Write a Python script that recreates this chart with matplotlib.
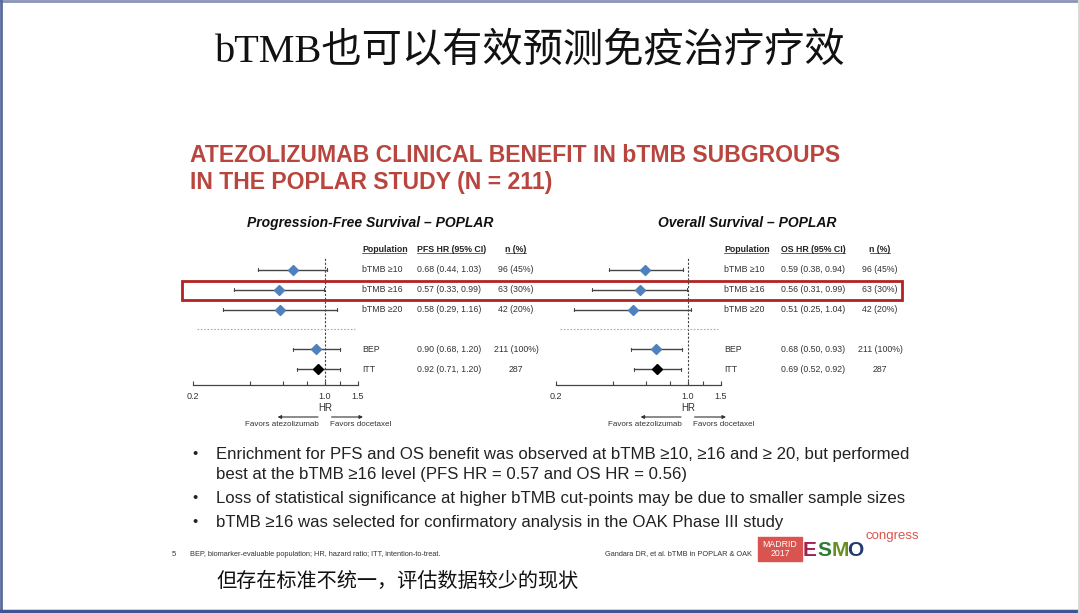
import matplotlib
matplotlib.use('Agg')
import matplotlib.pyplot as plt
from matplotlib.patches import Rectangle
from matplotlib.transforms import blended_transform_factory
import numpy as np

plt.rcParams['font.family'] = ['Liberation Sans', 'Noto Sans CJK SC', 'DejaVu Sans']

# 数据
groups = ['bTMB \u226510', 'bTMB \u226516', 'bTMB \u226520', 'BEP', 'ITT']
rows = [0, 1, 2, 4, 5]
pfs_hr = [0.68, 0.57, 0.58, 0.90, 0.92]
pfs_lo = [0.44, 0.33, 0.29, 0.68, 0.71]
pfs_hi = [1.03, 0.99, 1.16, 1.20, 1.20]
os_hr = [0.59, 0.56, 0.51, 0.68, 0.69]
os_lo = [0.38, 0.31, 0.25, 0.50, 0.52]
os_hi = [0.94, 0.99, 1.04, 0.93, 0.92]
n_pct = ['96 (45%)', '63 (30%)', '42 (20%)', '211 (100%)', '287']
marker_colors = ['#4F81BD', '#4F81BD', '#4F81BD', '#4F81BD', '#000000']
ticks = [0.2, 0.4, 0.6, 0.8, 1.0, 1.2, 1.5]
tick_labels = ['0.2', '', '', '', '1.0', '', '1.5']

W, H = 1080, 613
fig = plt.figure(figsize=(W / 100, H / 100), dpi=100)
bg = fig.add_axes([0, 0, 1, 1])
bg.set_xlim(0, W)
bg.set_ylim(H, 0)
bg.axis('off')

# 边框
bg.plot([0, W], [1, 1], color='#8A93B8', lw=2)
bg.plot([1, 1], [0, H], color='#5A6A9E', lw=2)
bg.plot([0, W], [H - 2, H - 2], color='#3E5591', lw=2.5)
bg.plot([W - 1, W - 1], [0, H], color='#D8D8D8', lw=1.5)

# 标题
bg.text(530, 52, 'bTMB也可以有效预测免疫治疗疗效', fontsize=29, ha='center', va='center',
        family=['Liberation Serif', 'Noto Sans CJK SC'], color='#111111')
red = '#B8463F'
bg.text(190, 156, 'ATEZOLIZUMAB CLINICAL BENEFIT IN bTMB SUBGROUPS', fontsize=16.6,
        fontweight='bold', color=red, va='center', ha='left')
bg.text(190, 182, 'IN THE POPLAR STUDY (N = 211)', fontsize=16.6,
        fontweight='bold', color=red, va='center', ha='left')


def forest(x0, x1, title, tcx, hr_head, hr, lo, hi, pop_x, hr_x, n_x):
    ax = fig.add_axes([x0 / W, 1 - 385 / H, (x1 - x0) / W, (385 - 258) / H])
    ax.set_xscale('log')
    ax.set_xlim(0.2, 1.5)
    ax.set_ylim(5.8, -0.6)
    for s in ['top', 'right', 'left']:
        ax.spines[s].set_visible(False)
    ax.spines['bottom'].set_color('#444444')
    ax.spines['bottom'].set_linewidth(0.9)
    ax.set_yticks([])
    ax.set_xticks(ticks)
    ax.set_xticklabels(tick_labels, fontsize=6.5, color='#333333')
    ax.minorticks_off()
    ax.tick_params(axis='x', direction='in', length=3, width=0.8, color='#444444', pad=5)
    ax.patch.set_alpha(0)
    ax.axvline(1.0, color='#444444', lw=0.8, ls=(0, (2, 1.5)))
    ax.plot([0.21, 1.45], [3, 3], color='#AAAAAA', lw=0.8, ls=(0, (1.5, 1.5)), clip_on=False)
    for r, m, l, h, c in zip(rows, hr, lo, hi, marker_colors):
        ax.plot([l, h], [r, r], color='#444444', lw=1.0, clip_on=False)
        ax.plot([l, l], [r - 0.08, r + 0.08], color='#444444', lw=0.7, clip_on=False)
        ax.plot([h, h], [r - 0.08, r + 0.08], color='#444444', lw=0.7, clip_on=False)
        ax.plot(m, r, marker='D', ms=5.5, color=c, mec=c, zorder=3, clip_on=False)

    tr = blended_transform_factory(bg.transData, ax.transData)
    fs = 6.3
    ax.text(pop_x, -1.05, 'Population', transform=tr, fontsize=fs, fontweight='bold',
            va='center', ha='left', color='#222222')
    ax.text(hr_x, -1.05, hr_head, transform=tr, fontsize=fs, fontweight='bold',
            va='center', ha='left', color='#222222')
    ax.text(n_x + 18, -1.05, 'n (%)', transform=tr, fontsize=fs, fontweight='bold',
            va='center', ha='center', color='#222222')
    # 表头下划线
    for xa, xb in [(pop_x, pop_x + 44), (hr_x, hr_x + 66 if hr_head.startswith('PFS') else hr_x + 64),
                   (n_x + 8, n_x + 28)]:
        ax.plot([xa, xb], [-0.85, -0.85], transform=tr, color='#222222', lw=0.5, clip_on=False)
    for r, g, m, l, h, n in zip(rows, groups, hr, lo, hi, n_pct):
        ax.text(pop_x, r, g, transform=tr, fontsize=fs, va='center', ha='left', color='#333333')
        ax.text(hr_x, r, f'{m:.2f} ({l:.2f}, {h:.2f})', transform=tr, fontsize=fs,
                va='center', ha='left', color='#333333')
        ax.text(n_x + 18, r, n, transform=tr, fontsize=fs, va='center', ha='center', color='#333333')

    bg.text(tcx, 223, title, fontsize=10, fontweight='bold', style='italic',
            ha='center', va='center', color='#111111')
    # HR 及箭头
    xc = ax.transData.transform((1.0, 0))[0]
    bg.text(xc, 408, 'HR', fontsize=7, ha='center', va='center', color='#333333')
    bg.annotate('', xy=(xc - 50, 417), xytext=(xc - 4, 417),
                arrowprops=dict(arrowstyle='-|>', color='#333333', lw=0.8, mutation_scale=5))
    bg.annotate('', xy=(xc + 41, 417), xytext=(xc + 4, 417),
                arrowprops=dict(arrowstyle='-|>', color='#333333', lw=0.8, mutation_scale=5))
    bg.text(xc - 6, 424, 'Favors atezolizumab', fontsize=5.8, ha='right', va='center', color='#333333')
    bg.text(xc + 5, 424, 'Favors docetaxel', fontsize=5.8, ha='left', va='center', color='#333333')
    return ax


forest(193, 358, 'Progression-Free Survival \u2013 POPLAR', 370, 'PFS HR (95% CI)',
       pfs_hr, pfs_lo, pfs_hi, 362, 417, 498)
forest(556, 721, 'Overall Survival \u2013 POPLAR', 747, 'OS HR (95% CI)',
       os_hr, os_lo, os_hi, 724, 781, 862)

# 红框
bg.add_patch(Rectangle((181.5, 280.5), 720, 19.5, fill=False, ec='#B22222', lw=2))

# 要点
bullets = [
    (454, 'Enrichment for PFS and OS benefit was observed at bTMB \u226510, \u226516 and \u2265 20, but performed', True),
    (474, 'best at the bTMB \u226516 level (PFS HR = 0.57 and OS HR = 0.56)', False),
    (498, 'Loss of statistical significance at higher bTMB cut-points may be due to smaller sample sizes', True),
    (522, 'bTMB \u226516 was selected for confirmatory analysis in the OAK Phase III study', True),
]
for y, t, dot in bullets:
    if dot:
        bg.text(195, y, '\u2022', fontsize=10.5, ha='center', va='center', color='#222222')
    bg.text(216, y, t, fontsize=12.1, ha='left', va='center', color='#222222')

# 页脚
bg.text(172, 554, '5', fontsize=5.5, ha='left', va='center', color='#333333')
bg.text(190, 554, 'BEP, biomarker-evaluable population; HR, hazard ratio; ITT, intention-to-treat.',
        fontsize=5.3, ha='left', va='center', color='#333333')
bg.text(752, 554, 'Gandara DR, et al. bTMB in POPLAR & OAK', fontsize=5.3, ha='right',
        va='center', color='#333333')

# ESMO 标志
bg.add_patch(Rectangle((758, 537), 44, 24, color='#D9534F'))
bg.text(780, 549, 'MADRID\n2017', fontsize=6.3, ha='center', va='center', color='white',
        linespacing=0.95)
for x, ch, col in [(810, 'E', '#A0214F'), (824, 'S', '#2E7D32'), (840, 'M', '#6B8E23'), (855, 'O', '#1F3A6E')]:
    bg.text(x, 551, ch, fontsize=15, fontweight='bold', ha='center', va='center', color=col)
bg.text(866, 536, 'congress', fontsize=9.5, ha='left', va='center', color='#D9534F')

# 底部中文
bg.text(216, 581, '但存在标准不统一，评估数据较少的现状', fontsize=14.5, ha='left', va='center',
        family=['Noto Sans CJK SC'], color='#111111')

plt.savefig('out.png', dpi=100)
